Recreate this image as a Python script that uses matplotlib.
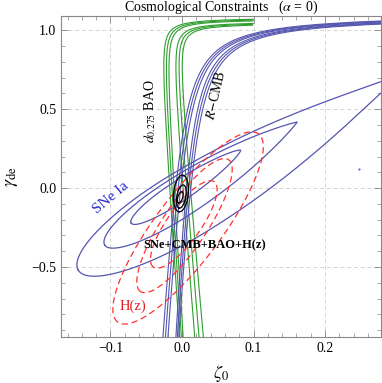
import numpy as np
import matplotlib
matplotlib.use("Agg")
import matplotlib.pyplot as plt
from matplotlib.ticker import MultipleLocator

plt.rcParams['font.family'] = ['Liberation Serif', 'DejaVu Serif']
plt.rcParams['mathtext.fontset'] = 'stix'

# ---- data ----
# closed contours: (tip1, tip2, half width / length, widest point, right taper)
sn_tip1 = [(-0.071, -0.222), (-0.108, -0.361), (-0.145, -0.520)]
sn_tip2 = [(0.082, 0.240), (0.161, 0.418), (0.310, 0.730)]
sn_half = [0.080, 0.088, 0.088]
sn_mid = [0.40, 0.37, 0.33]
sn_taper = [0.7, 0.9, 1.2]

hz_tip1 = [(-0.040, -0.500), (-0.058, -0.655), (-0.090, -0.848)]
hz_tip2 = [(0.045, 0.040), (0.065, 0.180), (0.107, 0.343)]
hz_half = [0.16, 0.14, 0.14]

all_tip1 = [(-0.005, -0.095), (-0.004, -0.127), (-0.004, -0.150)]
all_tip2 = [(0.000, -0.023), (0.002, 0.020), (0.001, 0.082)]
all_half = [0.20, 0.19, 0.20]

# BAO band lines: x at y=-0.9 and y=0.66, asymptote level c
bao_yref = (-0.9, 0.66)
bao_xlo = [-0.004, -0.0015, 0.001, 0.017, 0.023, 0.029]
bao_xhi = [-0.025, -0.0215, -0.018, -0.008, -0.0035, 0.001]
bao_c = [1.080, 1.075, 1.070, 1.055, 1.050, 1.045]
bao_k = 0.0015
bao_xmax = 0.1

# R-CMB band lines: x at y=-0.9 and y=0.5, asymptote level c
cmb_yref = (-0.9, 0.5)
cmb_xlo = [-0.026, -0.0225, -0.019, -0.008, -0.006, -0.004]
cmb_xhi = [0.008, 0.0115, 0.015, 0.022, 0.0255, 0.029]
cmb_c = [1.107, 1.104, 1.101, 1.097, 1.094, 1.091]
cmb_k = 0.014

dot_x = [0.247]
dot_y = [0.120]

BLUE = '#5555b0'
GREEN = '#2e9e2e'
RED = '#ff3030'

fig = plt.figure(figsize=(3.82, 3.83), dpi=100)
ax = fig.add_axes([0.160, 0.120, 0.837, 0.838])
ax.set_xlim(-0.169, 0.278)
ax.set_ylim(-0.943, 1.089)


def leaf(tip1, tip2, half, mid=0.5, taper=0.5, **kw):
    # closed contour built in screen space so widths look right
    p1 = ax.transData.transform(tip1)
    p2 = ax.transData.transform(tip2)
    d = p2 - p1
    L = np.hypot(*d)
    e = d / L
    n = np.array([-e[1], e[0]])
    s = (1 - np.cos(np.linspace(0, np.pi, 300))) / 2
    w = np.where(s < mid,
                 np.sqrt(np.clip(1 - ((s - mid) / mid) ** 2, 0, 1)),
                 np.clip(1 - ((s - mid) / (1 - mid)) ** 2, 0, 1) ** taper)
    h = half * L * w
    up = p1 + np.outer(s, d) + np.outer(h, n)
    lo = p1 + np.outer(s, d) - np.outer(h, n)
    pts = np.vstack([up, lo[::-1], up[:1]])
    xy = ax.transData.inverted().transform(pts)
    ax.plot(xy[:, 0], xy[:, 1], **kw)


def band(yref, xlo, xhi, cs, k, xmax=None, **kw):
    # near-vertical lines bending over to a flat asymptote y=c
    for x0, x1, c in zip(xlo, xhi, cs):
        g0 = k / (c - yref[0])
        g1 = k / (c - yref[1])
        b = ((x1 - g1) - (x0 - g0)) / (yref[1] - yref[0])
        a = (x0 - g0) - b * yref[0]
        y = np.concatenate([np.linspace(-1.0, c - 0.06, 200),
                            c - np.geomspace(0.06, 1e-4, 400)])
        x = a + b * y + k / (c - y)
        if xmax is not None:
            x = np.where(x > xmax, np.nan, x)
        ax.plot(x, y, **kw)


for xv in [-0.1, 0.0, 0.1, 0.2]:
    ax.axvline(xv, color='#d4d4d4', lw=0.7, ls=(0, (4, 3)), zorder=0)
for yv in [-0.5, 0.0, 0.5, 1.0]:
    ax.axhline(yv, color='#d4d4d4', lw=0.7, ls=(0, (4, 3)), zorder=0)

band(bao_yref, bao_xlo, bao_xhi, bao_c, bao_k, xmax=bao_xmax, color=GREEN, lw=0.8)
band(cmb_yref, cmb_xlo, cmb_xhi, cmb_c, cmb_k, color=BLUE, lw=0.8)

for t1, t2, hw, m, tp in zip(sn_tip1, sn_tip2, sn_half, sn_mid, sn_taper):
    leaf(t1, t2, hw, m, tp, color=BLUE, lw=0.9)
for t1, t2, hw in zip(hz_tip1, hz_tip2, hz_half):
    leaf(t1, t2, hw, color=RED, lw=0.9, ls=(0, (5, 3)))
for t1, t2, hw in zip(all_tip1, all_tip2, all_half):
    leaf(t1, t2, hw, color='black', lw=0.9)

ax.plot(dot_x, dot_y, 'o', ms=1.5, color=BLUE, mec='none')

# labels on the plot
ax.text(-0.099, -0.063, 'SNe Ia', color='#2a2ad0', fontsize=11, rotation=40,
        ha='center', va='center')
ax.text(-0.044, 0.49, r'$d_{0.275}$ BAO', fontsize=10, rotation=90,
        ha='center', va='center')
ax.text(0.047, 0.59, r'$R$$-$CMB', fontsize=10, rotation=77,
        ha='center', va='center')
ax.text(0.031, -0.36, 'SNe+CMB+BAO+H(z)', fontsize=9, fontweight='bold',
        ha='center', va='center')
ax.text(-0.069, -0.75, 'H(z)', color='#e02020', fontsize=10.5,
        ha='center', va='center')

ax.set_title(r'Cosmological Constraints   ($\alpha$ = 0)', fontsize=10, pad=3)
ax.set_xlabel(r'$\zeta_0$', fontsize=13, labelpad=6)
ax.set_ylabel(r'$\gamma_{\rm de}$', fontsize=13, labelpad=8)

ax.xaxis.set_minor_locator(MultipleLocator(0.02))
ax.yaxis.set_minor_locator(MultipleLocator(0.1))
ax.set_xticks([-0.1, 0.0, 0.1, 0.2])
ax.set_xticklabels(['\u22120.1', '0.0', '0.1', '0.2'])
ax.set_yticks([-0.5, 0.0, 0.5, 1.0])
ax.set_yticklabels(['\u22120.5', '0.0', '0.5', '1.0'])
ax.tick_params(which='both', direction='in', top=True, right=True,
               color='#888888', labelsize=10)
ax.tick_params(which='major', length=5, width=0.6)
ax.tick_params(which='minor', length=3, width=0.5)
for sp in ax.spines.values():
    sp.set_color('#888888')
    sp.set_linewidth(0.8)

fig.savefig('out.png', dpi=100)
